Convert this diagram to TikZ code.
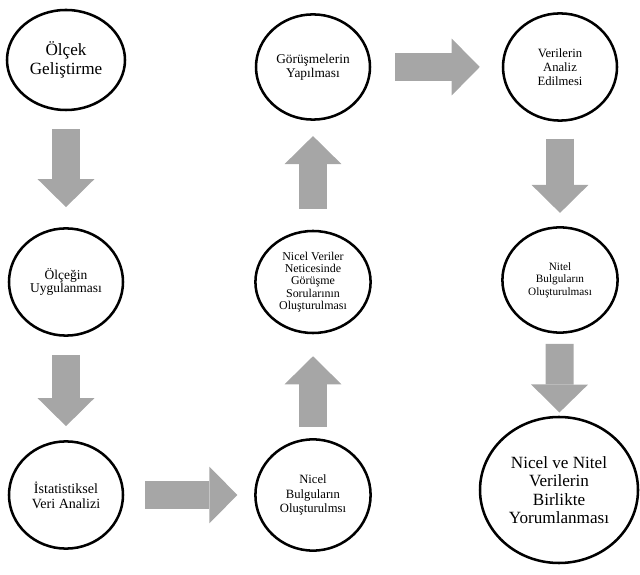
\documentclass[tikz,border=0pt]{standalone}
\usepackage{fontspec}
\setmainfont{Liberation Serif}
\definecolor{ArrowGray}{RGB}{166, 166, 166}
\usepackage{tikz}
\usetikzlibrary{arrows.meta, positioning, shapes.geometric}

\begin{document}
\begin{tikzpicture}[
    stage/.style={draw, ellipse, line width=1.8pt, align=center, inner sep=0pt,
                  minimum width=2.85cm, minimum height=2.65cm},
    flow/.style={draw=ArrowGray, line width=0.7cm,
                 -{Triangle[width=1.42cm, length=0.7cm, line width=0pt]}},
    bigfont/.style={font=\fontsize{12.2}{13}\selectfont},
    midfont/.style={font=\fontsize{10}{10.8}\selectfont},
    smallfont/.style={font=\fontsize{8.6}{9.2}\selectfont}]

\useasboundingbox (0,0) rectangle (16,14.35);

\node[stage, bigfont, minimum width=2.95cm, minimum height=2.5cm] (olcek) at (1.65,12.85) {Ölçek\\Geliştirme};
\node[stage, midfont, font=\fontsize{9.5}{10}\selectfont, minimum height=2.63cm] (gorusme) at (7.825,12.675) {Görüşmelerin\\Yapılması};
\node[stage, smallfont, font=\fontsize{9}{9.8}\selectfont, minimum height=2.68cm] (analiz) at (14.0,12.675) {Verilerin\\Analiz\\Edilmesi};
\node[stage, midfont, font=\fontsize{9.6}{9.8}\selectfont, minimum height=2.68cm] (uygulama) at (1.65,7.3) {Ölçeğin\\Uygulanması};
\node[stage, smallfont, font=\fontsize{8.5}{8.7}\selectfont, minimum width=2.88cm, minimum height=2.55cm] (soru) at (7.825,7.3) {Nicel Veriler\\Neticesinde\\Görüşme\\Sorularının\\Oluşturulması};
\node[stage, smallfont, font=\fontsize{8}{9}\selectfont, minimum width=2.88cm, minimum height=2.63cm] (nitel) at (14.0,7.35) {Nitel\\Bulguların\\Oluşturulması};
\node[stage, midfont, minimum height=2.68cm] (istatistik) at (1.65,1.975) {İstatistiksel\\Veri Analizi};
\node[stage, midfont, font=\fontsize{9}{10}\selectfont, minimum width=2.88cm, minimum height=2.78cm] (nicelbulgu) at (7.825,1.975) {Nicel\\Bulguların\\Oluşturulmsı};
\node[stage, bigfont, minimum width=3.95cm, minimum height=3.65cm] (yorum) at (13.975,2.1) {Nicel ve Nitel\\Verilerin\\Birlikte\\Yorumlanması};

\draw[flow, shorten <=0.45cm, shorten >=0.5cm] (olcek) -- (uygulama);
\draw[flow, shorten <=0.45cm, shorten >=0.35cm] (uygulama) -- (istatistik);
\draw[flow, shorten <=0.52cm, shorten >=0.42cm] (istatistik) -- (nicelbulgu);
\draw[flow, shorten <=0.28cm, shorten >=0.55cm] (nicelbulgu) -- (soru);
\draw[flow, shorten <=0.52cm, shorten >=0.38cm] (soru) -- (gorusme);
\draw[flow, shorten <=0.6cm, shorten >=0.55cm] (gorusme) -- (analiz);
\draw[flow, shorten <=0.42cm, shorten >=0.33cm] (analiz) -- (nitel);
\draw[flow, shorten <=0.25cm, shorten >=0.08cm] (nitel) -- (yorum);
\end{tikzpicture}
\end{document}
